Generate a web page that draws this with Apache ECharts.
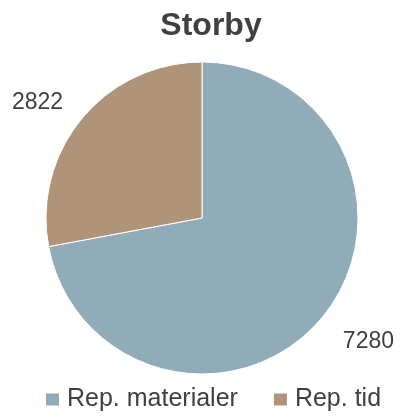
<!DOCTYPE html>
<html>
<head>
<meta charset="utf-8">
<script src="https://cdn.jsdelivr.net/npm/echarts@6/dist/echarts.min.js"></script>
<style>
  html, body { margin: 0; padding: 0; background: #fff; }
  #main { width: 401px; height: 417px; }
</style>
</head>
<body>
<div id="main"></div>
<script>
// data
var categories = ['Rep. materialer', 'Rep. tid'];
var values = [7280, 2822];
var colors = ['#8FACB8', '#AF947A'];

var chart = echarts.init(document.getElementById('main'));

var pieData = categories.map(function (name, i) {
  return { name: name, value: values[i], itemStyle: { color: colors[i] } };
});

var option = {
  animation: false,
  title: {
    text: 'Storby',
    left: 206,
    textAlign: 'center',
    top: 5,
    textStyle: {
      fontFamily: 'Liberation Sans, Arial, sans-serif',
      fontSize: 32,
      fontWeight: 'bold',
      color: '#404040'
    }
  },
  legend: {
    data: categories,
    left: 44,
    top: 387,
    padding: 0,
    icon: 'rect',
    itemWidth: 15,
    itemHeight: 14,
    itemGap: 34,
    textStyle: {
      fontFamily: 'Liberation Sans, Arial, sans-serif',
      fontSize: 25,
      color: '#404040',
      padding: [0, 0, 0, 2]
    }
  },
  series: [{
    type: 'pie',
    center: [202, 218],
    radius: 156,
    startAngle: 90,
    clockwise: true,
    data: pieData,
    itemStyle: { borderColor: '#ffffff', borderWidth: 1 },
    label: {
      show: true,
      position: 'outside',
      formatter: '{c}',
      overflow: 'none',
      fontFamily: 'Liberation Sans, Arial, sans-serif',
      fontSize: 23,
      color: '#404040'
    },
    labelLine: { show: false, length: 18, length2: 0 },
    // nudge labels a little to sit where the original has them
    labelLayout: function (params) {
      return params.dataIndex === 0 ? { dx: 2, dy: 12 } : { dy: -4 };
    },
    emphasis: { disabled: true }
  }]
};

chart.setOption(option);
</script>
</body>
</html>
